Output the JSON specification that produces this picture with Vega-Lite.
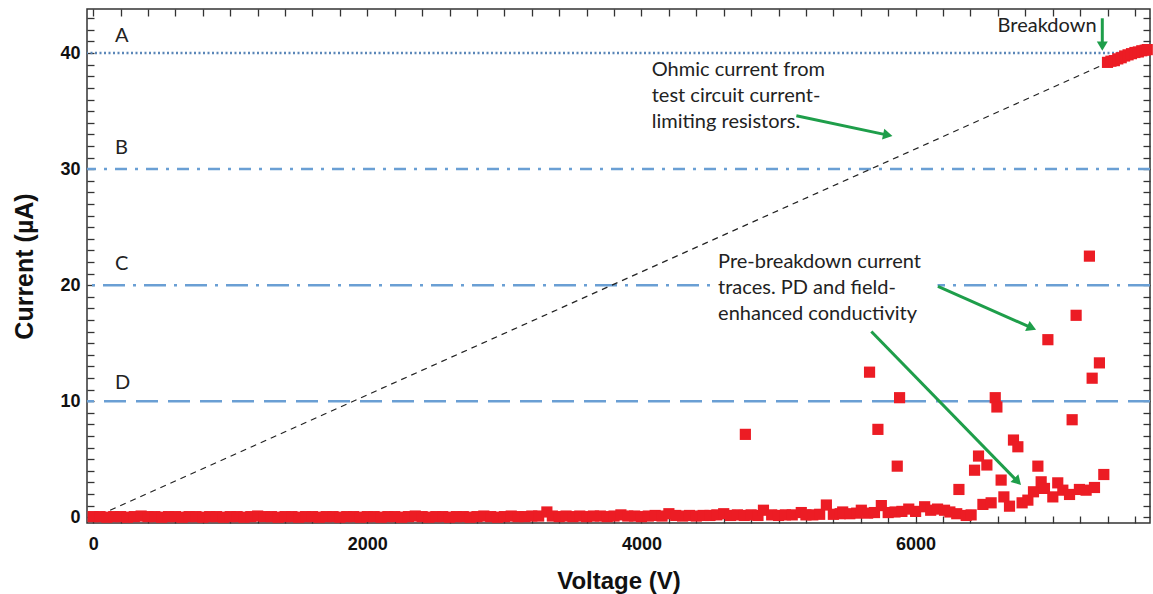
{
  "$schema": "https://vega.github.io/schema/vega-lite/v6.json",
  "width": 1063,
  "height": 514,
  "autosize": {"type": "none"},
  "padding": {"left": 87, "top": 9, "right": 3, "bottom": 71},
  "background": "white",
  "config": {
    "view": {"stroke": "#333", "strokeWidth": 1.5},
    "axis": {
      "grid": false,
      "domain": false,
      "ticks": true,
      "offset": -7,
      "tickSize": 7,
      "tickColor": "#333",
      "tickWidth": 1.3,
      "tickOpacity": 1,
      "labelFont": "Liberation Sans",
      "labelFontWeight": "bold",
      "labelFontSize": 18,
      "labelColor": "#111",
      "titleFont": "Liberation Sans",
      "titleFontWeight": "bold",
      "titleFontSize": 24,
      "titleColor": "#111",
      "zindex": 1
    }
  },
  "datasets": {
    "refs": [
      {"line": "A", "current": 40},
      {"line": "B", "current": 30},
      {"line": "C", "current": 20},
      {"line": "D", "current": 10}
    ],
    "boxes": [
      {"v1": 4512, "v2": 6160, "i1": 16.2, "i2": 23.0}
    ],
    "ohmic": [
      {"v": 124, "i": 0.6},
      {"v": 7360, "i": 38.95}
    ],
    "arrows": [
      {"arrow": "breakdown", "v1": 7362, "i1": 43.0, "v2": 7362, "i2": 40.6},
      {"arrow": "ohmic", "v1": 5130, "i1": 34.6, "v2": 5797, "i2": 32.93},
      {"arrow": "pre1", "v1": 6163, "i1": 19.9, "v2": 6847, "i2": 16.32},
      {"arrow": "pre2", "v1": 5677, "i1": 16.0, "v2": 6745, "i2": 3.07}
    ],
    "notes": [
      {"text": "A", "v": 160, "i": 40.93},
      {"text": "B", "v": 160, "i": 31.26},
      {"text": "C", "v": 160, "i": 21.3},
      {"text": "D", "v": 160, "i": 11.03},
      {"text": "Breakdown", "v": 6598, "i": 41.8},
      {"text": "Ohmic current from\ntest circuit current-\nlimiting resistors.", "v": 4075, "i": 38.02},
      {"text": "Pre-breakdown current\ntraces. PD and field-\nenhanced conductivity", "v": 4559, "i": 21.48}
    ],
    "points": [
      {"v": 0, "i": 0.05}, {"v": 50, "i": 0.05}, {"v": 100, "i": 0.0}, {"v": 150, "i": 0.05}, {"v": 200, "i": 0.05},
      {"v": 250, "i": 0.0}, {"v": 300, "i": 0.05}, {"v": 350, "i": 0.1}, {"v": 400, "i": 0.05}, {"v": 450, "i": 0.05},
      {"v": 500, "i": 0.0}, {"v": 550, "i": 0.05}, {"v": 600, "i": 0.05}, {"v": 650, "i": 0.0}, {"v": 700, "i": 0.05},
      {"v": 750, "i": 0.05}, {"v": 800, "i": 0.0}, {"v": 850, "i": 0.05}, {"v": 900, "i": 0.05}, {"v": 950, "i": 0.0},
      {"v": 1000, "i": 0.05}, {"v": 1050, "i": 0.05}, {"v": 1100, "i": 0.0}, {"v": 1150, "i": 0.05}, {"v": 1200, "i": 0.1},
      {"v": 1250, "i": 0.05}, {"v": 1300, "i": 0.05}, {"v": 1350, "i": 0.0}, {"v": 1400, "i": 0.05}, {"v": 1450, "i": 0.05},
      {"v": 1500, "i": 0.0}, {"v": 1550, "i": 0.05}, {"v": 1600, "i": 0.05}, {"v": 1650, "i": 0.0}, {"v": 1700, "i": 0.05},
      {"v": 1750, "i": 0.05}, {"v": 1800, "i": 0.0}, {"v": 1850, "i": 0.05}, {"v": 1900, "i": 0.05}, {"v": 1950, "i": 0.0},
      {"v": 2000, "i": 0.05}, {"v": 2050, "i": 0.05}, {"v": 2100, "i": 0.0}, {"v": 2150, "i": 0.05}, {"v": 2200, "i": 0.05},
      {"v": 2250, "i": 0.0}, {"v": 2300, "i": 0.05}, {"v": 2350, "i": 0.1}, {"v": 2400, "i": 0.05}, {"v": 2450, "i": 0.0},
      {"v": 2500, "i": 0.05}, {"v": 2550, "i": 0.05}, {"v": 2600, "i": 0.0}, {"v": 2650, "i": 0.05}, {"v": 2700, "i": 0.05},
      {"v": 2750, "i": 0.0}, {"v": 2800, "i": 0.05}, {"v": 2850, "i": 0.1}, {"v": 2900, "i": 0.05}, {"v": 2950, "i": 0.0},
      {"v": 3000, "i": 0.05}, {"v": 3050, "i": 0.1}, {"v": 3100, "i": 0.05}, {"v": 3150, "i": 0.05}, {"v": 3200, "i": 0.1},
      {"v": 3250, "i": 0.1}, {"v": 3310, "i": 0.45}, {"v": 3350, "i": 0.1}, {"v": 3400, "i": 0.05}, {"v": 3450, "i": 0.1},
      {"v": 3500, "i": 0.05}, {"v": 3550, "i": 0.1}, {"v": 3600, "i": 0.05}, {"v": 3650, "i": 0.1}, {"v": 3700, "i": 0.1},
      {"v": 3750, "i": 0.05}, {"v": 3800, "i": 0.1}, {"v": 3850, "i": 0.2}, {"v": 3900, "i": 0.1}, {"v": 3950, "i": 0.1},
      {"v": 4000, "i": 0.05}, {"v": 4050, "i": 0.1}, {"v": 4100, "i": 0.15}, {"v": 4150, "i": 0.1}, {"v": 4200, "i": 0.3},
      {"v": 4250, "i": 0.15}, {"v": 4300, "i": 0.1}, {"v": 4350, "i": 0.15}, {"v": 4400, "i": 0.1}, {"v": 4450, "i": 0.15},
      {"v": 4500, "i": 0.15}, {"v": 4550, "i": 0.2}, {"v": 4600, "i": 0.3}, {"v": 4650, "i": 0.15}, {"v": 4700, "i": 0.2},
      {"v": 4750, "i": 0.15}, {"v": 4758, "i": 7.14}, {"v": 4800, "i": 0.2}, {"v": 4850, "i": 0.15}, {"v": 4890, "i": 0.6},
      {"v": 4950, "i": 0.2}, {"v": 5000, "i": 0.15}, {"v": 5050, "i": 0.2}, {"v": 5100, "i": 0.2}, {"v": 5166, "i": 0.4},
      {"v": 5200, "i": 0.2}, {"v": 5250, "i": 0.2}, {"v": 5300, "i": 0.25}, {"v": 5349, "i": 1.05}, {"v": 5400, "i": 0.25},
      {"v": 5450, "i": 0.3}, {"v": 5468, "i": 0.45}, {"v": 5520, "i": 0.3}, {"v": 5570, "i": 0.35}, {"v": 5604, "i": 0.6},
      {"v": 5650, "i": 0.35}, {"v": 5664, "i": 12.5}, {"v": 5700, "i": 0.4}, {"v": 5725, "i": 7.57}, {"v": 5750, "i": 1.0},
      {"v": 5800, "i": 0.4}, {"v": 5850, "i": 0.45}, {"v": 5866, "i": 4.4}, {"v": 5883, "i": 10.3}, {"v": 5900, "i": 0.5},
      {"v": 5950, "i": 0.7}, {"v": 6000, "i": 0.5}, {"v": 6066, "i": 0.9}, {"v": 6110, "i": 0.6}, {"v": 6160, "i": 0.7},
      {"v": 6211, "i": 0.6}, {"v": 6250, "i": 0.45}, {"v": 6300, "i": 0.3}, {"v": 6316, "i": 2.39}, {"v": 6369, "i": 0.15},
      {"v": 6405, "i": 0.2}, {"v": 6430, "i": 4.05}, {"v": 6459, "i": 5.27}, {"v": 6491, "i": 1.1}, {"v": 6520, "i": 4.5},
      {"v": 6551, "i": 1.24}, {"v": 6581, "i": 10.3}, {"v": 6593, "i": 9.5}, {"v": 6624, "i": 3.2}, {"v": 6644, "i": 1.75},
      {"v": 6685, "i": 0.95}, {"v": 6714, "i": 6.65}, {"v": 6746, "i": 6.07}, {"v": 6777, "i": 1.24}, {"v": 6819, "i": 1.47},
      {"v": 6860, "i": 2.19}, {"v": 6892, "i": 4.4}, {"v": 6916, "i": 3.05}, {"v": 6940, "i": 2.48}, {"v": 6965, "i": 15.3},
      {"v": 7001, "i": 1.75}, {"v": 7037, "i": 2.96}, {"v": 7074, "i": 2.33}, {"v": 7123, "i": 1.96}, {"v": 7142, "i": 8.4},
      {"v": 7171, "i": 17.4}, {"v": 7195, "i": 2.39}, {"v": 7244, "i": 2.33}, {"v": 7268, "i": 22.5}, {"v": 7288, "i": 11.98},
      {"v": 7305, "i": 2.56}, {"v": 7341, "i": 13.3}, {"v": 7373, "i": 3.68},
      {"v": 7400, "i": 39.2}, {"v": 7425, "i": 39.3}, {"v": 7450, "i": 39.35}, {"v": 7475, "i": 39.5}, {"v": 7500, "i": 39.6},
      {"v": 7525, "i": 39.75}, {"v": 7550, "i": 39.85}, {"v": 7575, "i": 39.95}, {"v": 7600, "i": 40.05}, {"v": 7625, "i": 40.1},
      {"v": 7650, "i": 40.2}, {"v": 7675, "i": 40.25}, {"v": 7690, "i": 40.3}
    ]
  },
  "layer": [
    {
      "data": {"name": "refs"},
      "mark": {"type": "rule", "strokeWidth": 2.5},
      "encoding": {
        "y": {"field": "current", "type": "quantitative", "scale": {"domain": [-0.5, 43.8], "nice": false, "zero": false}, "axis": null},
        "strokeDash": {"field": "line", "type": "nominal", "scale": {"domain": ["A", "B", "C", "D"], "range": [[2, 2.5], [12, 8, 3, 8], [22, 8, 3, 8], [22, 10]]}, "legend": null},
        "color": {"field": "line", "type": "nominal", "scale": {"domain": ["A", "B", "C", "D"], "range": ["#5a86b8", "#6a9fd4", "#6a9fd4", "#6a9fd4"]}, "legend": null}
      }
    },
    {
      "data": {"name": "boxes"},
      "mark": {"type": "rect", "color": "white"},
      "encoding": {
        "x": {"field": "v1", "type": "quantitative", "scale": {"domain": [-45, 7710], "nice": false, "zero": false}, "axis": null},
        "x2": {"field": "v2"},
        "y": {"field": "i1", "type": "quantitative", "scale": {"domain": [-0.5, 43.8], "nice": false, "zero": false}, "axis": null},
        "y2": {"field": "i2"}
      }
    },
    {
      "data": {"name": "ohmic"},
      "mark": {"type": "line", "strokeDash": [6, 5], "color": "#222", "strokeWidth": 1.2},
      "encoding": {
        "x": {"field": "v", "type": "quantitative", "scale": {"domain": [-45, 7710], "nice": false, "zero": false},
          "axis": {"orient": "top", "values": [0,200,400,600,800,1000,1200,1400,1600,1800,2000,2200,2400,2600,2800,3000,3200,3400,3600,3800,4000,4200,4400,4600,4800,5000,5200,5400,5600,5800,6000,6200,6400,6600,6800,7000,7200,7400,7600],
            "labels": false, "title": null}},
        "y": {"field": "i", "type": "quantitative", "scale": {"domain": [-0.5, 43.8], "nice": false, "zero": false},
          "axis": {"orient": "right", "values": [0,1,2,3,4,5,6,7,8,9,10,11,12,13,14,15,16,17,18,19,20,21,22,23,24,25,26,27,28,29,30,31,32,33,34,35,36,37,38,39,40,41,42,43],
            "labels": false, "title": null}}
      }
    },
    {
      "data": {"name": "points"},
      "mark": {"type": "square", "size": 125, "color": "#ec1c24", "opacity": 1, "filled": true},
      "encoding": {
        "x": {"field": "v", "type": "quantitative", "scale": {"domain": [-45, 7710], "nice": false, "zero": false},
          "axis": {"orient": "bottom", "title": "Voltage (V)", "format": "d",
            "values": [0,200,400,600,800,1000,1200,1400,1600,1800,2000,2200,2400,2600,2800,3000,3200,3400,3600,3800,4000,4200,4400,4600,4800,5000,5200,5400,5600,5800,6000,6200,6400,6600,6800,7000,7200,7400,7600],
            "labelExpr": "datum.value % 2000 === 0 ? datum.label : ''",
            "labelPadding": 12, "titlePadding": 16}},
        "y": {"field": "i", "type": "quantitative", "scale": {"domain": [-0.5, 43.8], "nice": false, "zero": false},
          "axis": {"orient": "left", "title": "Current (µA)", "format": "d",
            "values": [0,1,2,3,4,5,6,7,8,9,10,11,12,13,14,15,16,17,18,19,20,21,22,23,24,25,26,27,28,29,30,31,32,33,34,35,36,37,38,39,40,41,42,43],
            "labelExpr": "datum.value % 10 === 0 ? datum.label : ''",
            "labelPadding": 7, "titlePadding": 22, "titleFontSize": 25}}
      }
    },
    {
      "data": {"name": "arrows"},
      "mark": {"type": "rule", "color": "#1e9e4a", "strokeWidth": 3},
      "encoding": {
        "x": {"field": "v1", "type": "quantitative", "scale": {"domain": [-45, 7710], "nice": false, "zero": false}, "axis": null},
        "y": {"field": "i1", "type": "quantitative", "scale": {"domain": [-0.5, 43.8], "nice": false, "zero": false}, "axis": null},
        "x2": {"field": "v2"},
        "y2": {"field": "i2"}
      }
    },
    {
      "data": {"name": "arrows"},
      "transform": [{"filter": "datum.arrow === 'breakdown'"}],
      "mark": {"type": "point", "shape": "triangle-up", "angle": 180, "filled": true, "opacity": 1, "color": "#1e9e4a", "size": 120},
      "encoding": {
        "x": {"field": "v2", "type": "quantitative", "scale": {"domain": [-45, 7710], "nice": false, "zero": false}, "axis": null},
        "y": {"field": "i2", "type": "quantitative", "scale": {"domain": [-0.5, 43.8], "nice": false, "zero": false}, "axis": null}
      }
    },
    {
      "data": {"name": "arrows"},
      "transform": [{"filter": "datum.arrow === 'ohmic'"}],
      "mark": {"type": "point", "shape": "triangle-up", "angle": 102, "filled": true, "opacity": 1, "color": "#1e9e4a", "size": 120},
      "encoding": {
        "x": {"field": "v2", "type": "quantitative", "scale": {"domain": [-45, 7710], "nice": false, "zero": false}, "axis": null},
        "y": {"field": "i2", "type": "quantitative", "scale": {"domain": [-0.5, 43.8], "nice": false, "zero": false}, "axis": null}
      }
    },
    {
      "data": {"name": "arrows"},
      "transform": [{"filter": "datum.arrow === 'pre1'"}],
      "mark": {"type": "point", "shape": "triangle-up", "angle": 114, "filled": true, "opacity": 1, "color": "#1e9e4a", "size": 120},
      "encoding": {
        "x": {"field": "v2", "type": "quantitative", "scale": {"domain": [-45, 7710], "nice": false, "zero": false}, "axis": null},
        "y": {"field": "i2", "type": "quantitative", "scale": {"domain": [-0.5, 43.8], "nice": false, "zero": false}, "axis": null}
      }
    },
    {
      "data": {"name": "arrows"},
      "transform": [{"filter": "datum.arrow === 'pre2'"}],
      "mark": {"type": "point", "shape": "triangle-up", "angle": 136, "filled": true, "opacity": 1, "color": "#1e9e4a", "size": 120},
      "encoding": {
        "x": {"field": "v2", "type": "quantitative", "scale": {"domain": [-45, 7710], "nice": false, "zero": false}, "axis": null},
        "y": {"field": "i2", "type": "quantitative", "scale": {"domain": [-0.5, 43.8], "nice": false, "zero": false}, "axis": null}
      }
    },
    {
      "data": {"name": "notes"},
      "mark": {"type": "text", "font": "Lato", "fontSize": 20, "color": "#222", "align": "left", "baseline": "alphabetic", "lineBreak": "\n", "lineHeight": 26},
      "encoding": {
        "x": {"field": "v", "type": "quantitative", "scale": {"domain": [-45, 7710], "nice": false, "zero": false}, "axis": null},
        "y": {"field": "i", "type": "quantitative", "scale": {"domain": [-0.5, 43.8], "nice": false, "zero": false}, "axis": null},
        "text": {"field": "text", "type": "nominal"}
      }
    }
  ]
}
